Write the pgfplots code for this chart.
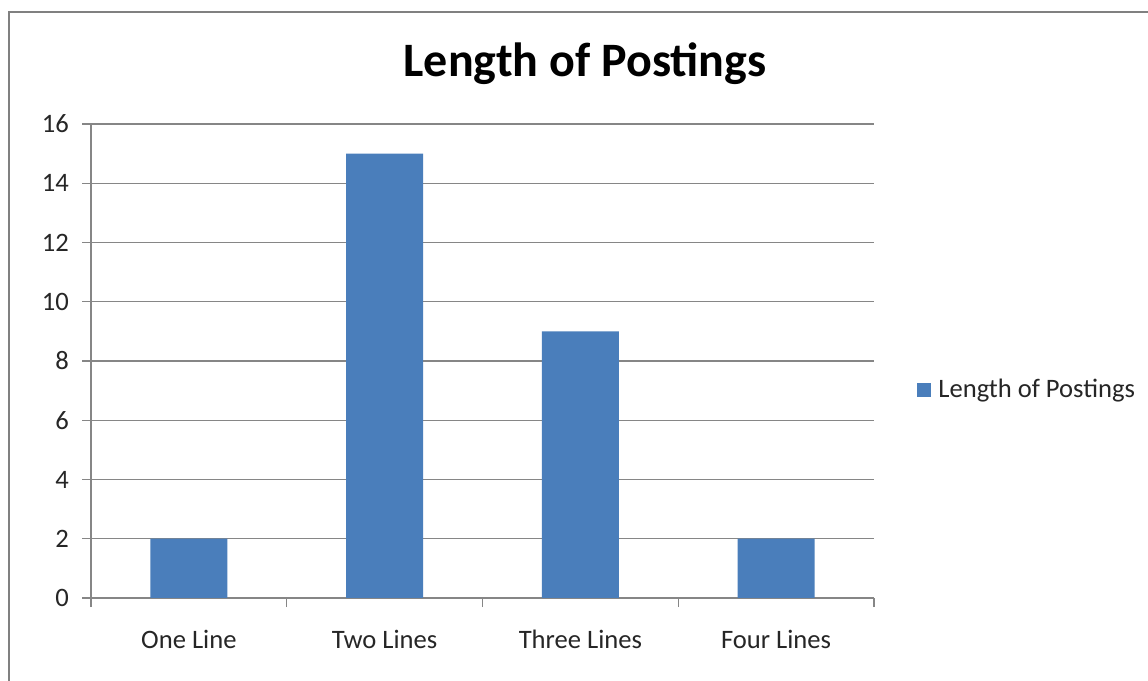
\documentclass[border=0pt]{standalone}
\usepackage{fontspec}
\setmainfont{Carlito}
\usepackage{pgfplots}
\pgfplotsset{compat=1.18}
\definecolor{barblue}{RGB}{74,126,187}
\definecolor{gridgray}{RGB}{134,134,134}
\definecolor{framegray}{RGB}{128,128,128}
\begin{document}
\begin{tikzpicture}
\useasboundingbox (0,0) rectangle (574pt,340.5pt);
\fill[white] (0,0) rectangle (574pt,340.5pt);
\draw[framegray, line width=1pt] (4.5pt,-10pt) -- (4.5pt,334.5pt) -- (590pt,334.5pt);
\begin{axis}[at={(45.5pt,41.5pt)}, anchor=south west, scale only axis,
  width=391.5pt, height=237pt,
  xmin=-0.5, xmax=3.5, ymin=0, ymax=16, ytick={0,2,...,16},
  xtick={-0.5,0.5,1.5,2.5,3.5}, xticklabels={},
  extra x ticks={0,1,2,3},
  extra x tick labels={One Line, Two Lines, Three Lines, Four Lines},
  extra x tick style={major tick length=0pt, xticklabel style={yshift=-12.5pt}},
  axis lines*=left,
  axis line style={gridgray, line width=0.6pt},
  ymajorgrids, grid style={gridgray, line width=0.6pt},
  tick style={gridgray, line width=0.6pt},
  tick align=outside, major tick length=4.5pt,
  tick label style={font=\fontsize{13.3}{16}\selectfont, text=black!85},
  yticklabel style={xshift=-3pt},
  /pgf/number format/assume math mode=true,
  ybar, bar width=38.5pt,
  legend style={at={(1.055,0.439)}, anchor=west, draw=none, fill=none,
    font=\fontsize{13.3}{16}\selectfont, inner sep=0pt, text=black!85},
  legend cell align=left,
]
\addplot[fill=barblue, draw=none,
  legend image code/.code={\fill[barblue] (0pt,-3.5pt) rectangle (7pt,3.5pt); \path (8.5pt,0pt);}]
  coordinates {(0,2) (1,15) (2,9) (3,2)};
\addlegendentry{Length of Postings}
\end{axis}
\node[font=\bfseries\fontsize{24}{28}\selectfont, text=black] at (292.5pt,308.5pt) {Length of Postings};
\end{tikzpicture}
\end{document}
